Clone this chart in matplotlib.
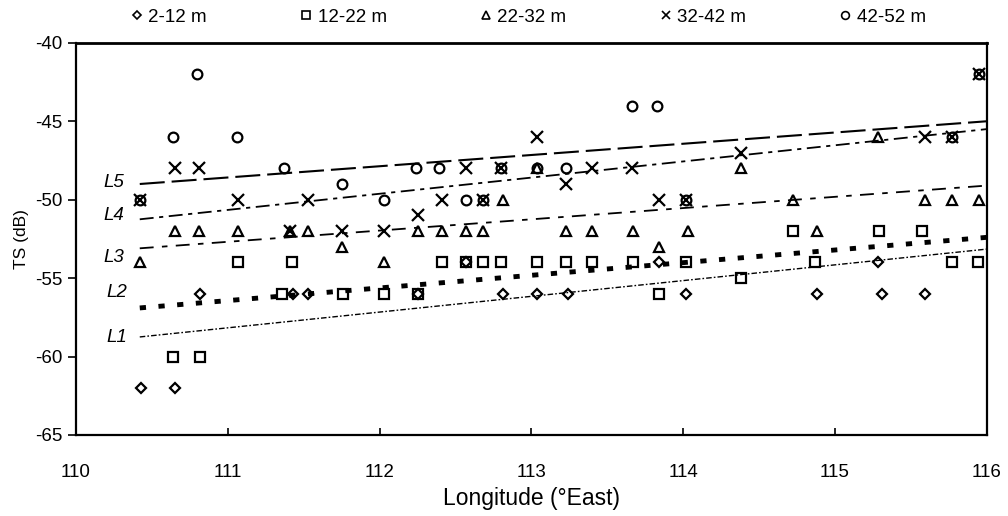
import matplotlib
matplotlib.use("Agg")
import matplotlib.pyplot as plt
from matplotlib.lines import Line2D

plt.rcParams['font.family'] = ['Liberation Sans Narrow', 'Liberation Sans', 'DejaVu Sans']
plt.rcParams['axes.unicode_minus'] = False
plt.rcParams['lines.scale_dashes'] = False

# ---------------- data ----------------
series_names = ["2-12 m", "12-22 m", "22-32 m", "32-42 m", "42-52 m"]

d1_x = [110.43, 110.65, 110.82, 111.43, 111.53, 112.25, 112.57, 112.81, 113.04, 113.24,
        113.84, 114.02, 114.88, 115.28, 115.31, 115.59]
d1_y = [-62, -62, -56, -56, -56, -56, -54, -56, -56, -56,
        -54, -56, -56, -54, -56, -56]

d2_x = [110.64, 110.82, 111.07, 111.42, 111.36, 111.76, 112.03, 112.25, 112.41, 112.57,
        112.68, 112.80, 113.04, 113.23, 113.40, 113.67, 113.84, 114.02, 114.38, 114.72,
        114.87, 115.29, 115.57, 115.77, 115.94]
d2_y = [-60, -60, -54, -54, -56, -56, -56, -56, -54, -54,
        -54, -54, -54, -54, -54, -54, -56, -54, -55, -52,
        -54, -52, -52, -54, -54]

d3_x = [110.42, 110.65, 110.81, 111.07, 111.41, 111.53, 111.75, 112.03, 112.25, 112.41,
        112.57, 112.68, 112.81, 113.04, 113.23, 113.40, 113.67, 113.84, 114.03, 114.38,
        114.72, 114.88, 115.28, 115.59, 115.77, 115.95]
d3_y = [-54, -52, -52, -52, -52, -52, -53, -54, -52, -52,
        -52, -52, -50, -48, -52, -52, -52, -53, -52, -48,
        -50, -52, -46, -50, -50, -50]

d4_x = [110.42, 110.65, 110.81, 111.07, 111.41, 111.53, 111.75, 112.03, 112.25, 112.41,
        112.57, 112.68, 112.80, 113.04, 113.23, 113.40, 113.66, 113.84, 114.02, 114.38,
        115.59, 115.77, 115.95]
d4_y = [-50, -48, -48, -50, -52, -50, -52, -52, -51, -50,
        -48, -50, -48, -46, -49, -48, -48, -50, -50, -47,
        -46, -46, -42]

d5_x = [110.42, 110.64, 110.80, 111.06, 111.37, 111.75, 112.03, 112.24, 112.39, 112.57,
        112.68, 112.80, 113.04, 113.23, 113.66, 113.83, 114.02, 115.77, 115.95]
d5_y = [-50, -46, -42, -46, -48, -49, -50, -48, -48, -50,
        -50, -48, -48, -48, -44, -44, -50, -46, -42]

# regression lines (end points)
line_names = ["L1", "L2", "L3", "L4", "L5"]
line_x = [110.42, 116.0]
L1_y = [-58.75, -53.15]
L2_y = [-56.9, -52.4]
L3_y = [-53.1, -49.1]
L4_y = [-51.25, -45.5]
L5_y = [-49.0, -45.0]

xticks = [110, 111, 112, 113, 114, 115, 116]
yticks = [-65, -60, -55, -50, -45, -40]

# ---------------- styles ----------------
markers = ["D", "s", "^", "x", "o"]
msizes = [6.5, 6.5, 7.5, 8, 7]
line_styles = [
    dict(lw=1.0, dashes=(4, 1.5, 1.2, 1.5)),
    dict(lw=3.5, dashes=(4.5, 9)),
    dict(lw=1.3, dashes=(10, 6, 4, 6)),
    dict(lw=1.3, dashes=(10, 4, 3, 4)),
    dict(lw=1.5, dashes=(18, 5)),
]
label_pos = [(110.27, -58.8), (110.27, -55.9), (110.25, -53.7), (110.25, -51.0), (110.25, -48.9)]

fig = plt.figure(figsize=(10.08, 5.16), dpi=100)
ax = fig.add_axes([0.0754, 0.157, 0.9036, 0.760])

all_x = [d1_x, d2_x, d3_x, d4_x, d5_x]
all_y = [d1_y, d2_y, d3_y, d4_y, d5_y]
handles = []
for xs, ys, m, ms, name in zip(all_x, all_y, markers, msizes, series_names):
    kw = dict(marker=m, linestyle="none", markersize=ms, color="black")
    if m == "x":
        kw.update(markeredgewidth=1.6)
    else:
        kw.update(markerfacecolor="none", markeredgewidth=1.6)
    if m == "D":
        kw["markersize"] = ms * 0.85
    ax.plot(xs, ys, **kw, zorder=3)
    hk = dict(kw)
    hk["markersize"] = kw["markersize"] * 0.8
    hk["markeredgewidth"] = 1.2
    handles.append(Line2D([], [], **hk, label=name))

for ys, st, name, pos in zip([L1_y, L2_y, L3_y, L4_y, L5_y], line_styles, line_names, label_pos):
    ax.plot(line_x, ys, color="black", linestyle="--", dashes=st["dashes"], lw=st["lw"],
            solid_capstyle="butt", dash_capstyle="butt", zorder=2)
    ax.text(pos[0], pos[1], name, fontsize=13.5, style="italic", ha="center", va="center")

ax.set_xlim(110, 116)
ax.set_ylim(-65, -40)
ax.set_xticks(xticks)
ax.set_yticks(yticks)
ax.set_xticklabels([str(t) for t in xticks])
ax.set_yticklabels([str(t) for t in yticks])
ax.tick_params(axis="x", direction="in", length=5, width=1.2, labelsize=13.5, pad=21)
ax.tick_params(axis="y", direction="out", length=6, width=1.2, labelsize=13.5, pad=4)
for sp in ax.spines.values():
    sp.set_linewidth(1.6)
ax.spines["top"].set_linewidth(2.0)
ax.set_xlabel("Longitude (\u00b0East)", fontsize=16.5, labelpad=4)
ax.set_ylabel("TS (dB)", fontsize=12.5, labelpad=4)

ax.legend(handles=handles, ncol=5, frameon=False, loc="center",
          bbox_to_anchor=(0.497, 1.066), fontsize=13.5, handlelength=0.6,
          handletextpad=0.3, columnspacing=5.0, borderaxespad=0)

fig.savefig("out.png", dpi=100, facecolor="white")
